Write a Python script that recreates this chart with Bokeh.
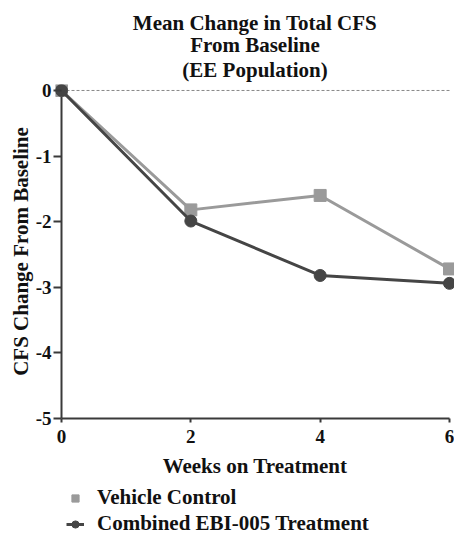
from bokeh.plotting import figure
from bokeh.layouts import column
from bokeh.models import Range1d, Title, Legend, LegendItem, FixedTicker
from bokeh.embed import file_html
from bokeh.resources import INLINE

# ---- data ----
weeks = [0, 2, 4, 6]
vehicle = [0, -1.82, -1.60, -2.72]
combined = [0, -1.99, -2.82, -2.94]
x_ticks = [0, 2, 4, 6]
y_ticks = [0, -1, -2, -3, -4, -5]
X_MIN, X_MAX = 0, 6
Y_MIN, Y_MAX = -5, 0
title_lines = ["Mean Change in Total CFS", "From Baseline", "(EE Population)"]
title_standoffs = [-3, -6, 5]
series_names = ["Vehicle Control", "Combined EBI-005 Treatment"]

FONT = "Liberation Serif"
GRAY = "#9a9a9a"
DARK = "#454545"
AXIS = "#3a3a3a"
TXT = "#111111"

W = 454
p = figure(width=W, height=480, output_backend="svg", toolbar_location=None,
           x_range=Range1d(X_MIN - 0.0928, X_MAX + 0.0773),
           y_range=Range1d(Y_MIN, Y_MAX + 0.0912),
           min_border_left=55, min_border_right=0, min_border_top=84,
           min_border_bottom=61, title=None)
p.outline_line_color = None
p.grid.grid_line_color = None

for t, s in reversed(list(zip(title_lines, title_standoffs))):
    p.add_layout(Title(text=t, align="center", text_font=FONT, text_font_size="21px",
                       text_font_style="bold", text_color=TXT, standoff=s), "above")

# x axis
xa = p.xaxis[0]
xa.ticker = FixedTicker(ticks=x_ticks)
xa.bounds = (X_MIN, X_MAX)
xa.axis_label = "Weeks on Treatment"
xa.axis_label_text_font = FONT
xa.axis_label_text_font_size = "21px"
xa.axis_label_text_font_style = "bold"
xa.axis_label_text_color = TXT
xa.axis_label_standoff = 8
xa.major_label_text_font = FONT
xa.major_label_text_font_size = "19px"
xa.major_label_text_font_style = "bold"
xa.major_label_text_color = TXT
xa.major_label_standoff = 7
xa.axis_line_color = AXIS
xa.axis_line_width = 2
xa.major_tick_line_color = AXIS
xa.major_tick_line_width = 2
xa.major_tick_out = 4
xa.major_tick_in = 0
xa.minor_tick_line_color = None

# y axis
ya = p.yaxis[0]
ya.ticker = FixedTicker(ticks=y_ticks)
ya.major_label_overrides = {float(t): str(t) for t in y_ticks}
ya.axis_label = "CFS Change From Baseline"
ya.axis_label_text_font = FONT
ya.axis_label_text_font_size = "21px"
ya.axis_label_text_font_style = "bold"
ya.axis_label_text_color = TXT
ya.axis_label_standoff = 0
ya.major_label_text_font = FONT
ya.major_label_text_font_size = "19px"
ya.major_label_text_font_style = "bold"
ya.major_label_text_color = TXT
ya.major_label_standoff = 2
ya.axis_line_color = None
ya.major_tick_line_color = AXIS
ya.major_tick_line_width = 2
ya.major_tick_out = 2
ya.major_tick_in = 6
ya.minor_tick_line_color = None

# y axis line at x = 0, zero reference line
p.segment(x0=[X_MIN], y0=[Y_MIN], x1=[X_MIN], y1=[Y_MAX], line_color=AXIS, line_width=2)
p.segment(x0=[X_MIN], y0=[0], x1=[X_MAX], y1=[0], line_color="#888888", line_width=1,
          line_dash="3 2")

p.line(weeks, vehicle, line_color=GRAY, line_width=3)
p.scatter(weeks, vehicle, marker="square", size=12, fill_color=GRAY, line_color=GRAY)
p.line(weeks, combined, line_color=DARK, line_width=3)
p.scatter(weeks, combined, marker="circle", size=12, fill_color=DARK, line_color=DARK)

# ---- legend strip below the chart ----
lg = figure(width=W, height=57, output_backend="svg", toolbar_location=None,
            x_range=Range1d(100, 101), y_range=Range1d(100, 101),
            x_axis_type=None, y_axis_type=None, min_border=0, title=None)
lg.outline_line_color = None
lg.grid.grid_line_color = None
r1 = lg.scatter(weeks, vehicle, marker="square", size=11, fill_color=GRAY, line_color=GRAY)
r2l = lg.line(weeks, combined, line_color=DARK, line_width=3)
r2m = lg.scatter(weeks, combined, marker="circle", size=11, fill_color=DARK, line_color=DARK)
legend = Legend(items=[LegendItem(label=series_names[0], renderers=[r1]),
                       LegendItem(label=series_names[1], renderers=[r2l, r2m])],
                location=(11, 1), orientation="vertical",
                label_text_font=FONT, label_text_font_size="21px",
                label_text_font_style="bold", label_text_color=TXT,
                glyph_width=18, glyph_height=20, label_height=20, spacing=1,
                label_standoff=13, padding=0, margin=0,
                border_line_color=None, background_fill_alpha=0)
lg.add_layout(legend, "center")

open("out.html", "w").write(file_html(column(p, lg, spacing=0), INLINE))
